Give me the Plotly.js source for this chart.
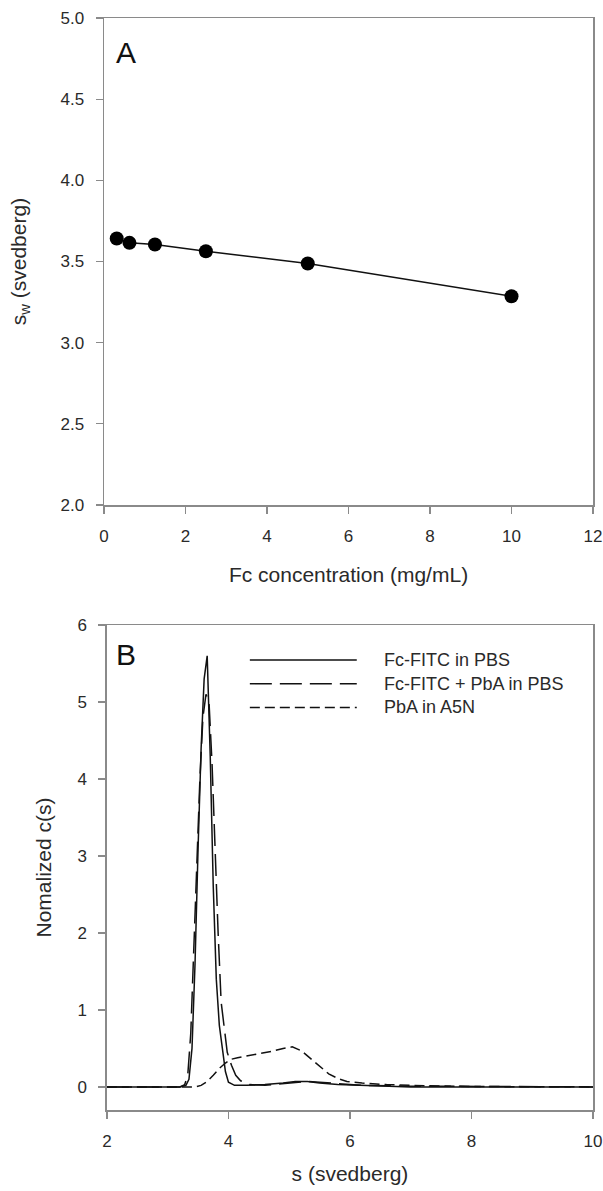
<!DOCTYPE html>
<html>
<head>
<meta charset="utf-8">
<script src="https://cdn.plot.ly/plotly-3.0.1.min.js"></script>
<style>html,body{margin:0;padding:0;background:#fff;}#chart{width:603px;height:1191px;}</style>
</head>
<body>
<div id="chart"></div>
<script>
// Panel A: sedimentation coefficient vs Fc concentration
const concA = [0.3125, 0.625, 1.25, 2.5, 5, 10];
const swA = [3.642, 3.615, 3.605, 3.563, 3.488, 3.286];

// Panel B: normalized c(s) distributions
const sSolid = [2, 3.2, 3.3, 3.35, 3.4, 3.45, 3.5, 3.55, 3.6, 3.65, 3.7, 3.75, 3.8, 3.85, 3.9, 3.95, 4.0, 4.1, 4.3, 4.6, 4.9, 5.1, 5.3, 5.5, 5.8, 6.2, 6.6, 7, 10];
const cSolid = [0, 0, 0.02, 0.1, 0.5, 1.6, 3.1, 4.4, 5.3, 5.6, 4.3, 2.6, 1.4, 0.8, 0.5, 0.2, 0.06, 0.02, 0.02, 0.03, 0.05, 0.07, 0.07, 0.05, 0.03, 0.02, 0.01, 0, 0];

const sLong = [2, 3.2, 3.28, 3.33, 3.38, 3.43, 3.48, 3.53, 3.58, 3.63, 3.68, 3.73, 3.78, 3.83, 3.88, 3.93, 3.98, 4.05, 4.12, 4.2, 4.35, 4.6, 4.9, 5.1, 5.3, 5.5, 5.8, 6.2, 7, 10];
const cLong = [0, 0, 0.03, 0.15, 0.7, 1.7, 2.9, 4.0, 4.8, 5.1, 5.0, 4.2, 3.0, 2.0, 1.1, 0.75, 0.45, 0.28, 0.15, 0.08, 0.03, 0.02, 0.04, 0.06, 0.07, 0.06, 0.04, 0.02, 0.01, 0];

const sShort = [2, 3.45, 3.55, 3.65, 3.75, 3.85, 3.95, 4.05, 4.15, 4.3, 4.5, 4.7, 4.9, 5.05, 5.2, 5.35, 5.5, 5.65, 5.8, 5.95, 6.2, 6.6, 7.0, 7.5, 8, 10];
const cShort = [0, 0, 0.02, 0.07, 0.15, 0.24, 0.31, 0.36, 0.38, 0.4, 0.43, 0.46, 0.5, 0.52, 0.47, 0.37, 0.26, 0.17, 0.11, 0.07, 0.05, 0.03, 0.02, 0.01, 0.005, 0];

const seriesNames = ['Fc-FITC in PBS', 'Fc-FITC + PbA in PBS', 'PbA in A5N'];

const FONT = 'Liberation Sans, Arial, Helvetica, sans-serif';
const TXT = '#2a2a2a';
const AX = '#8a8a8a';
const dashes = ['solid', '22px,8px', '10px,5px'];

const traces = [
  {x: concA, y: swA, xaxis: 'x', yaxis: 'y', mode: 'lines+markers', showlegend: false,
   line: {color: '#111', width: 1.5}, marker: {size: 14, color: '#000'}},
  {x: sSolid, y: cSolid, xaxis: 'x2', yaxis: 'y2', mode: 'lines', name: seriesNames[0], showlegend: false,
   line: {color: '#111', width: 1.5, dash: dashes[0]}},
  {x: sLong, y: cLong, xaxis: 'x2', yaxis: 'y2', mode: 'lines', name: seriesNames[1], showlegend: false,
   line: {color: '#111', width: 1.5, dash: dashes[1]}},
  {x: sShort, y: cShort, xaxis: 'x2', yaxis: 'y2', mode: 'lines', name: seriesNames[2], showlegend: false,
   line: {color: '#111', width: 1.5, dash: dashes[2]}}
];

function axisBase() {
  return {
    showline: true, linecolor: AX, linewidth: 1.5, mirror: true,
    ticks: 'outside', ticklen: 7, tickwidth: 1.2, tickcolor: AX,
    ticklabelstandoff: 8,
    showgrid: false, zeroline: false,
    tickfont: {family: FONT, size: 17, color: TXT},
    automargin: false
  };
}

const layout = {
  width: 603, height: 1191,
  paper_bgcolor: '#fff', plot_bgcolor: '#fff',
  margin: {l: 104, r: 10, t: 18, b: 81},
  showlegend: false,
  font: {family: FONT, color: TXT},
  xaxis: Object.assign(axisBase(), {
    domain: [0, 1], anchor: 'y', range: [0, 12], tick0: 0, dtick: 2,
    title: {text: 'Fc concentration (mg/mL)', font: {family: FONT, size: 21, color: TXT}, standoff: 22}
  }),
  yaxis: Object.assign(axisBase(), {
    domain: [0.554, 1], anchor: 'x', range: [2, 5], tick0: 2, dtick: 0.5, tickformat: '.1f',
    title: {text: 's<sub>w</sub> (svedberg)', font: {family: FONT, size: 21, color: TXT}, standoff: 28}
  }),
  xaxis2: Object.assign(axisBase(), {
    domain: [0.006, 1], anchor: 'y2', range: [2, 10], tick0: 2, dtick: 2,
    title: {text: 's (svedberg)', font: {family: FONT, size: 21, color: TXT}, standoff: 16}
  }),
  yaxis2: Object.assign(axisBase(), {
    domain: [0, 0.4441], anchor: 'x2', range: [-0.3, 6], tick0: 0, dtick: 1,
    title: {text: 'Nomalized c(s)', font: {family: FONT, size: 21, color: TXT}, standoff: 20}
  }),
  annotations: [
    {text: 'A', xref: 'x domain', yref: 'y domain', x: 0.02, y: 0.93, xanchor: 'left', yanchor: 'middle',
     showarrow: false, font: {family: FONT, size: 30, color: '#111'}},
    {text: 'B', xref: 'x2 domain', yref: 'y2 domain', x: 0.014, y: 0.94, xanchor: 'left', yanchor: 'middle',
     showarrow: false, font: {family: FONT, size: 30, color: '#111'}}
  ],
  shapes: []
};

// Legend drawn inside panel B
const legRows = [0.928, 0.879, 0.830];
seriesNames.forEach((nm, i) => {
  layout.shapes.push({type: 'line', xref: 'x2 domain', yref: 'y2 domain', x0: 0.294, x1: 0.514,
    y0: legRows[i], y1: legRows[i], line: {color: '#111', width: 1.5, dash: dashes[i]}});
  layout.annotations.push({text: nm, xref: 'x2 domain', yref: 'y2 domain', x: 0.566, y: legRows[i],
    xanchor: 'left', yanchor: 'middle', showarrow: false, font: {family: FONT, size: 18, color: TXT}});
});

Plotly.newPlot('chart', traces, layout, {displayModeBar: false, staticPlot: true});
</script>
</body>
</html>
